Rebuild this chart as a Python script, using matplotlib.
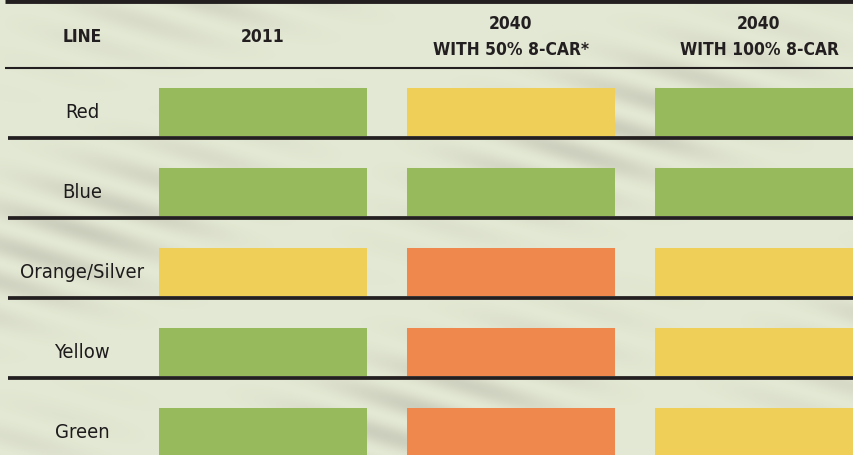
import numpy as np
import matplotlib.pyplot as plt
from matplotlib.colors import ListedColormap

# Table content
lines = ['Red', 'Blue', 'Orange/Silver', 'Yellow', 'Green']
headers = ['2011', '2040\nWITH 50% 8-CAR*', '2040\nWITH 100% 8-CAR']
# 0 = green, 1 = yellow, 2 = orange
status_2011 = [0, 0, 1, 0, 0]
status_2040_50 = [1, 0, 2, 2, 2]
status_2040_100 = [0, 0, 1, 1, 1]
level_colors = ['#97bb5c', '#efcf58', '#ee884d']

plt.rcParams['font.family'] = ['DejaVu Sans']
plt.rcParams['font.stretch'] = 'condensed'

status = np.array([status_2011, status_2040_50, status_2040_100]).T

fig = plt.figure(figsize=(8.54, 4.56), dpi=100)
fig.patch.set_facecolor('#e1e6d1')
ax = fig.add_axes([0, 0, 1, 1])
ax.set_facecolor('#e1e6d1')

# soft diagonal streaks for the textured backdrop
yy, xx = np.mgrid[0:456, 0:854]
tex = np.sin((xx * 0.3 - yy) / 12.0) * np.sin((xx + yy * 0.7) / 150.0) * np.cos(yy / 80.0 + xx / 400.0)
tex = np.clip(np.abs(tex), 0, 1) ** 2
ax.imshow(tex, extent=(-1.0605, 2.3831, 4.2875, -1.4125), aspect='auto',
          cmap=ListedColormap(np.linspace([0.89, 0.91, 0.83], [0.80, 0.81, 0.74], 64)),
          zorder=0)

cols = np.arange(len(headers))
for r, name in enumerate(lines):
    ax.bar(cols, 0.6, bottom=r - 0.3, width=0.839,
           color=[level_colors[s] for s in status[r]], zorder=2)
    ax.text(-0.73, r, name, ha='center', va='center', fontsize=14.5,
            color='#1e1b1c', zorder=3)
    ax.hlines(r + 0.325, -1.03, 2.4, color='#231f20', lw=2.7, zorder=3)

# header
ax.text(-0.73, -0.95, 'LINE', ha='center', va='center', fontsize=12.5,
        fontweight='bold', color='#231f20')
for c, h in zip(cols, headers):
    ax.text(c, -0.95, h, ha='center', va='center', fontsize=12.5,
            fontweight='bold', color='#231f20', linespacing=1.6)
ax.hlines(-0.55, -1.04, 2.4, color='#231f20', lw=1.5, zorder=3)
ax.hlines(-1.39, -1.04, 2.4, color='#231f20', lw=3.5, zorder=3)

ax.set_xlim(-1.0605, 2.3831)
ax.set_ylim(4.2875, -1.4125)
ax.axis('off')

fig.savefig('out.png', dpi=100, facecolor=fig.get_facecolor())
